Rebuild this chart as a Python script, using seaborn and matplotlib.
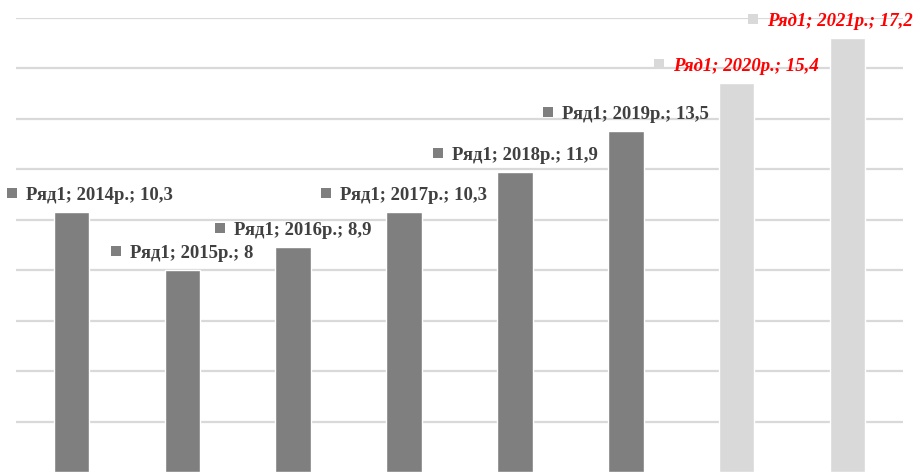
import matplotlib
matplotlib.use('Agg')
import matplotlib.pyplot as plt
import seaborn as sns
from matplotlib.patches import Rectangle

# data
series_name = 'Ряд1'
years = ['2014р.', '2015р.', '2016р.', '2017р.', '2018р.', '2019р.', '2020р.', '2021р.']
values = [10.3, 8, 8.9, 10.3, 11.9, 13.5, 15.4, 17.2]
forecast = [False, False, False, False, False, False, True, True]

dark_bar = '#7f7f7f'
light_bar = '#d9d9d9'
bar_colors = [light_bar if f else dark_bar for f in forecast]

sns.set_style('white')
plt.rcParams['font.family'] = ['Liberation Serif', 'DejaVu Serif']

W, H = 916, 472
fig = plt.figure(figsize=(W / 100, H / 100), dpi=100)
ax = fig.add_axes([16 / W, 0, 887 / W, (H - 17.5) / H])

sns.barplot(x=years, y=values, hue=years, palette=bar_colors, legend=False,
            width=0.32, saturation=1, ax=ax, zorder=2)

ax.set_ylim(0, 18)
ax.set_xlim(-0.5, len(years) - 0.5)
ax.set_yticks(range(2, 19, 2))
ax.yaxis.grid(True, color='#d9d9d9', linewidth=1.6, zorder=0)
ax.set_axisbelow(True)
ax.tick_params(left=False, bottom=False, labelleft=False, labelbottom=False)
ax.set_xlabel('')
ax.set_ylabel('')
sns.despine(ax=ax, left=True, bottom=True)

# data labels with legend key, like Excel
fig.canvas.draw()
renderer = fig.canvas.get_renderer()
sq = 10
gap = 9
for i, (yr, v, f) in enumerate(zip(years, values, forecast)):
    label = f"{series_name}; {yr}; {f'{v:g}'.replace('.', ',')}"
    t = fig.text(0, 0, label, fontsize=13.5, fontweight='bold',
                 fontstyle='italic' if f else 'normal',
                 color='#ff0000' if f else '#404040', va='baseline', ha='left')
    tw = t.get_window_extent(renderer).width
    cx, top = ax.transData.transform((i, v))
    gw = sq + gap + tw
    x0 = cx - gw / 2
    x0 = max(x0, 7)
    x0 = min(x0, W - 3 - gw)
    base = top + 12
    t.set_position(((x0 + sq + gap) / W, base / H))
    fig.add_artist(Rectangle((x0 / W, (base + 2) / H), sq / W, sq / H,
                             transform=fig.transFigure,
                             facecolor=bar_colors[i], edgecolor='none'))

fig.savefig('out.png', dpi=100)
